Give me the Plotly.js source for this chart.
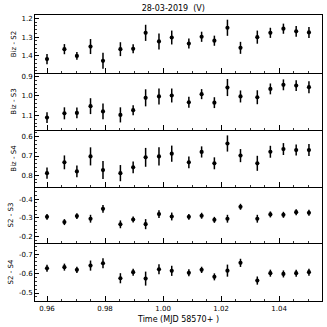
<!DOCTYPE html>
<html><head><meta charset="utf-8">
<script src="https://cdn.plot.ly/plotly-3.0.1.min.js"></script>
<style>html,body{margin:0;padding:0;background:#fff}#c{width:327px;height:327px}</style>
</head><body><div id="c"></div>
<script>
const time = [0.9600,0.9660,0.9703,0.9750,0.9793,0.9853,0.9897,0.9940,0.9986,1.0030,1.0089,1.0133,1.0177,1.0222,1.0267,1.0325,1.0370,1.0415,1.0459,1.0503];
const bizS2 = [1.417,1.364,1.400,1.350,1.426,1.364,1.362,1.277,1.323,1.302,1.334,1.298,1.319,1.250,1.357,1.300,1.277,1.255,1.269,1.275];
const bizS2Err = [0.027,0.027,0.021,0.040,0.043,0.037,0.024,0.043,0.043,0.037,0.027,0.027,0.027,0.043,0.032,0.035,0.027,0.027,0.029,0.029];
const bizS3 = [1.112,1.090,1.088,1.053,1.080,1.098,1.074,1.010,1.003,0.998,1.033,0.991,1.035,0.957,1.003,1.007,0.964,0.943,0.947,0.955];
const bizS3Err = [0.028,0.031,0.028,0.041,0.041,0.039,0.026,0.044,0.041,0.036,0.028,0.026,0.028,0.044,0.031,0.036,0.028,0.028,0.028,0.031];
const bizS4 = [0.789,0.733,0.780,0.702,0.773,0.789,0.759,0.707,0.702,0.688,0.733,0.679,0.738,0.635,0.698,0.738,0.678,0.664,0.669,0.669];
const bizS4Err = [0.029,0.036,0.031,0.047,0.047,0.042,0.031,0.049,0.047,0.042,0.031,0.029,0.031,0.042,0.034,0.039,0.031,0.031,0.029,0.031];
const s2S3 = [-0.305,-0.277,-0.309,-0.295,-0.348,-0.265,-0.291,-0.266,-0.320,-0.307,-0.305,-0.311,-0.289,-0.295,-0.359,-0.295,-0.318,-0.316,-0.330,-0.327];
const s2S3Err = [0.016,0.016,0.016,0.021,0.021,0.021,0.016,0.027,0.021,0.021,0.016,0.016,0.016,0.021,0.016,0.021,0.016,0.016,0.016,0.016];
const s2S4 = [-0.627,-0.633,-0.619,-0.641,-0.653,-0.576,-0.607,-0.574,-0.622,-0.614,-0.604,-0.619,-0.583,-0.615,-0.655,-0.564,-0.602,-0.598,-0.602,-0.607];
const s2S4Err = [0.018,0.018,0.016,0.026,0.026,0.026,0.018,0.036,0.026,0.026,0.018,0.016,0.018,0.031,0.021,0.021,0.018,0.018,0.018,0.018];
const yLabels = ["Biz - S2","Biz - S3","Biz - S4","S2 - S3","S2 - S4"];
const yTicks = [[1.2,1.3,1.4],[0.9,1.0,1.1],[0.6,0.7,0.8],[-0.4,-0.3,-0.2],[-0.7,-0.6,-0.5]];
const xTicks = [0.96,0.98,1.00,1.02,1.04];

const series = [[bizS2,bizS2Err],[bizS3,bizS3Err],[bizS4,bizS4Err],[s2S3,s2S3Err],[s2S4,s2S4Err]];
const ranges = [[1.491,1.182],[1.176,0.882],[0.861,0.565],[-0.165,-0.465],[-0.459,-0.757]];
const H = 286;
const bnd = [286,228,171,114,58,0];
const domains = [0,1,2,3,4].map(i=>[bnd[i+1]/H, bnd[i]/H]);
const font = {family:"DejaVu Sans", size:7, color:"#000"};
const traces = [];
const layout = {
  width:327, height:327, margin:{l:35,r:4.5,t:15,b:26},
  paper_bgcolor:"#fff", plot_bgcolor:"#fff", showlegend:false,
  title:{text:"28-03-2019  (V)", font:{family:"DejaVu Sans", size:8, color:"#000"}, x:0.53, xanchor:"center", y:0.985, yanchor:"top"},
  font:font
};
series.forEach((s,i)=>{
  const n = i+1, sx = n===1?"":String(n);
  traces.push({x:time, y:s[0], type:"scatter", mode:"markers",
    xaxis:"x"+sx, yaxis:"y"+sx,
    marker:{color:"#000", size:4.2},
    error_y:{type:"data", array:s[1], visible:true, color:"#000", thickness:1.5, width:0}});
  layout["xaxis"+sx] = {
    anchor:"y"+sx, matches: n===1?undefined:"x", range:[0.95586,1.0548],
    tickvals:xTicks, ticktext:xTicks.map(v=>v.toFixed(2)), showticklabels: n===5,
    ticks:"inside", ticklen:5, tickwidth:1, tickcolor:"#000",
    minor:{dtick:0.005, tick0:0.96, ticks:"inside", ticklen:2.5, tickcolor:"#000", tickwidth:0.8, showgrid:false},
    showline:true, linecolor:"#000", linewidth:1.2, mirror: n===1, showgrid:false, zeroline:false,
    tickfont:font,
    title: n===5 ? {text:"Time (MJD 58570+ )", font:{family:"DejaVu Sans", size:8, color:"#000"}, standoff:4} : undefined
  };
  layout["yaxis"+sx] = {
    anchor:"x"+sx, domain:domains[i], range:ranges[i],
    tickvals:yTicks[i], ticktext:yTicks[i].map(v=>v.toFixed(1)),
    ticks:"inside", ticklen:4, tickwidth:1, tickcolor:"#000",
    minor:{dtick:0.02, tick0:0, ticks:"inside", ticklen:2, tickcolor:"#000", tickwidth:0.8, showgrid:false},
    showline:true, linecolor:"#000", linewidth:1, mirror:true, showgrid:false, zeroline:false,
    tickfont:font,
    title:{text:yLabels[i], font:{family:"DejaVu Sans", size:7, color:"#000"}, standoff:4}
  };
});
Plotly.newPlot("c", traces, layout, {displayModeBar:false, staticPlot:true});
</script></body></html>
